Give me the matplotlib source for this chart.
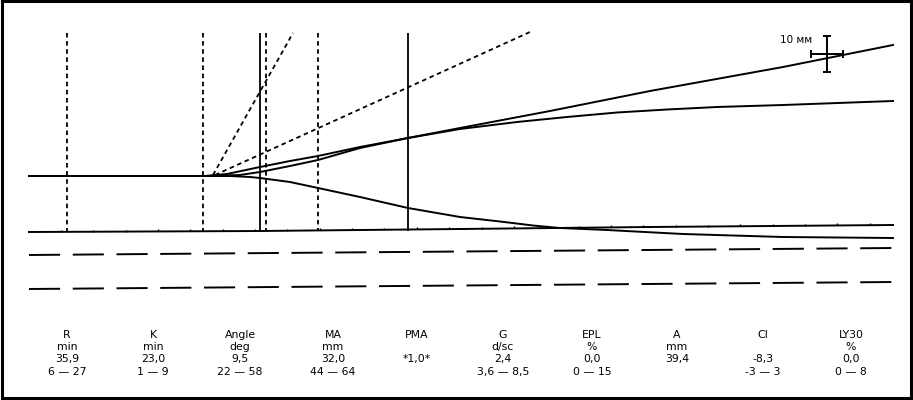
import matplotlib
matplotlib.use("Agg")
import matplotlib.pyplot as plt
import numpy as np

# ---- data (chart units: x = time axis, y = amplitude axis, image-like scale) ----
trace_start_x = [29, 205]
trace_start_y = [176, 176]

upper_a_x = [205, 227, 260, 290, 318, 360, 408, 460, 550, 650, 783, 893]
upper_a_y = [176, 174, 167, 161, 156, 147, 138, 128, 111, 91, 67, 45]

upper_b_x = [205, 240, 260, 290, 318, 360, 408, 460, 517, 567, 617, 667, 717, 783, 893]
upper_b_y = [176, 175, 172, 166, 160, 148, 138, 129, 122, 117, 112.5, 109.5, 107, 105, 101]

lower_x = [205, 230, 250, 260, 290, 318, 360, 408, 460, 500, 533, 560, 607, 683, 783, 893]
lower_y = [176, 176, 177, 178, 182, 188, 197, 208, 217, 221.5, 225.5, 228, 230, 234, 237, 238]

baseline_x = [29, 260, 460, 650, 893]
baseline_y = [232, 231, 229, 227, 225]

dash1_x = [29, 893]
dash1_y = [255, 248]
dash2_x = [29, 893]
dash2_y = [289, 282]

dotted_vlines = [67, 203, 266, 318]
solid_vlines = [260, 408]
vline_top = 33
vline_bottom = 231

angle1_x = [213, 293]
angle1_y = [175, 33]
angle2_x = [215, 530]
angle2_y = [175, 32]

scale_label = "10 мм"
scale_x = 827
scale_y = 54
scale_half = 16

col_x = [67, 153, 240, 333, 417, 503, 592, 677, 763, 851]
names = ["R", "K", "Angle", "MA", "PMA", "G", "EPL", "A", "CI", "LY30"]
units = ["min", "min", "deg", "mm", "", "d/sc", "%", "mm", "", "%"]
values = ["35,9", "23,0", "9,5", "32,0", "*1,0*", "2,4", "0,0", "39,4", "-8,3", "0,0"]
ranges = ["6 — 27", "1 — 9", "22 — 58", "44 — 64", "", "3,6 — 8,5", "0 — 15", "", "-3 — 3", "0 — 8"]
row_y = [335, 347, 359, 372]

# ---- figure ----
fig = plt.figure(figsize=(9.13, 4.0), dpi=100)
ax = fig.add_axes([0, 0, 1, 1])
ax.set_xlim(0, 913)
ax.set_ylim(400, 0)
ax.axis("off")

k = "black"
lw = 1.4
ax.plot(trace_start_x, trace_start_y, color=k, lw=lw)
ax.plot(upper_a_x, upper_a_y, color=k, lw=lw)
ax.plot(upper_b_x, upper_b_y, color=k, lw=lw)
ax.plot(lower_x, lower_y, color=k, lw=lw)
ax.plot(baseline_x, baseline_y, color=k, lw=lw)

# small ticks on baseline
tick_xs = np.arange(61, 880, 32.35)
tick_ys = np.interp(tick_xs, baseline_x, baseline_y)
ax.vlines(tick_xs, tick_ys - 2, tick_ys, color=k, lw=1)

ax.plot(dash1_x, dash1_y, color=k, lw=1.4, dashes=(16, 6.5))
ax.plot(dash2_x, dash2_y, color=k, lw=1.4, dashes=(16, 6.5))

ax.vlines(dotted_vlines, vline_top, vline_bottom, color=k, lw=1.3, linestyles=(0, (2.5, 2)))
ax.vlines(solid_vlines, vline_top, vline_bottom, color=k, lw=1.3)

ax.plot(angle1_x, angle1_y, color=k, lw=1.3, dashes=(2.5, 2))
ax.plot(angle2_x, angle2_y, color=k, lw=1.3, dashes=(2.5, 2))

# scale cross
ax.errorbar([scale_x], [scale_y], yerr=[[scale_half + 2], [scale_half + 2]],
            xerr=[[scale_half], [scale_half]], fmt="none", ecolor=k,
            elinewidth=1.4, capsize=3, capthick=1.4)
ax.text(scale_x - 15, scale_y - 14, scale_label, ha="right", va="center",
        fontsize=7.5, family="DejaVu Sans")

# table
for i, cx in enumerate(col_x):
    for txt, ry in zip([names[i], units[i], values[i], ranges[i]], row_y):
        if txt:
            ax.text(cx, ry, txt, ha="center", va="center", fontsize=7.8,
                    family="DejaVu Sans")

# border
ax.plot([1.5, 911, 911, 1.5, 1.5], [1, 1, 398, 398, 1], color=k, lw=2.2,
        solid_joinstyle="miter")

fig.savefig("out.png", dpi=100)
